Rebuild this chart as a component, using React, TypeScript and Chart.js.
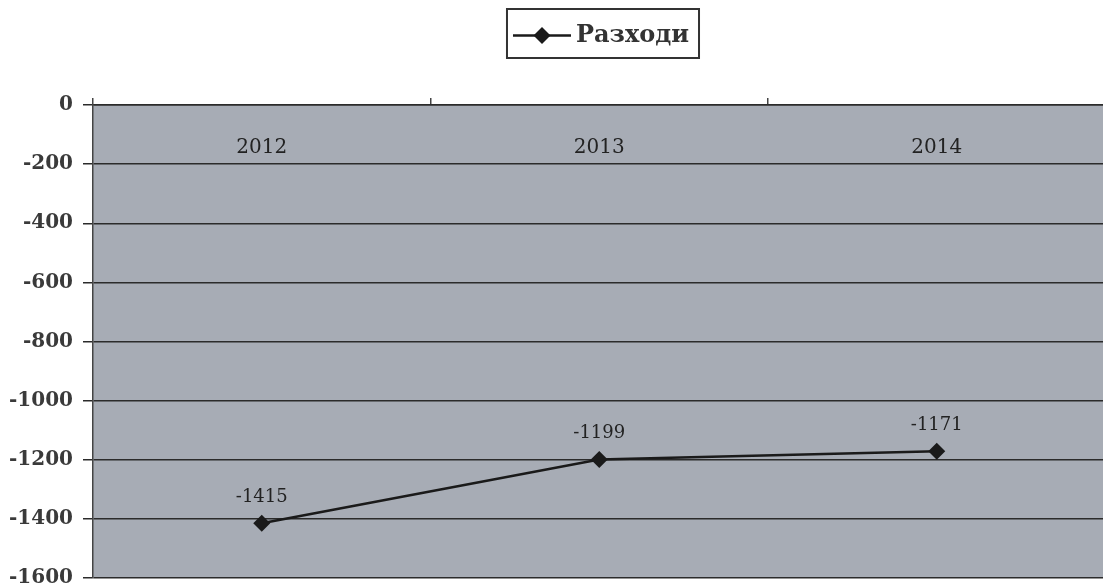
import React, { useEffect, useRef } from "react";
import { Chart, registerables } from "chart.js";

Chart.register(...registerables);

const categories = ["2012", "2013", "2014"];
const seriesLabel = "Разходи";
const expenses = [-1415, -1199, -1171];
const yMin = -1600;
const yMax = 0;
const yStep = 200;

const SERIF = "'DejaVu Serif', 'Liberation Serif', serif";
const PLOT_BG = "rgb(167,172,181)";
const INK = "#1a1a1a";

const bgPlugin = {
  id: "plotBg",
  beforeDraw(chart: any) {
    const { ctx, chartArea } = chart;
    ctx.save();
    ctx.fillStyle = PLOT_BG;
    ctx.fillRect(chartArea.left, chartArea.top, chartArea.right - chartArea.left, chartArea.bottom - chartArea.top);
    ctx.restore();
  },
};

const labelsPlugin = {
  id: "innerLabels",
  afterDatasetsDraw(chart: any) {
    const { ctx, chartArea } = chart;
    const xs = chart.scales.x;
    ctx.save();
    ctx.fillStyle = "#222";
    ctx.textAlign = "center";
    ctx.textBaseline = "middle";
    ctx.font = `20px ${SERIF}`;
    chart.data.labels.forEach((lab: string, i: number) => {
      ctx.fillText(lab, xs.getPixelForValue(i), chartArea.top + 43);
    });
    const meta = chart.getDatasetMeta(0);
    ctx.font = `18px ${SERIF}`;
    meta.data.forEach((pt: any, i: number) => {
      const v = chart.data.datasets[0].data[i];
      ctx.fillText(String(v), pt.x, pt.y - 26);
    });
    ctx.restore();
  },
};

const legendPlugin = {
  id: "boxLegend",
  afterDraw(chart: any) {
    const { ctx } = chart;
    const ds = chart.data.datasets[0];
    ctx.save();
    ctx.font = `bold 24px ${SERIF}`;
    const tw = ctx.measureText(ds.label).width;
    const lineW = 58;
    const gap = 5;
    const padL = 6;
    const padR = 10;
    const boxW = padL + lineW + gap + tw + padR;
    const cx = 603;
    const left = cx - boxW / 2;
    const top = 9;
    const h = 49;
    const cy = top + h / 2 + 2;
    ctx.strokeStyle = "#333";
    ctx.lineWidth = 2;
    ctx.strokeRect(left, top, boxW, h);
    ctx.strokeStyle = INK;
    ctx.lineWidth = 2.5;
    ctx.beginPath();
    ctx.moveTo(left + padL, cy);
    ctx.lineTo(left + padL + lineW, cy);
    ctx.stroke();
    const mx = left + padL + lineW / 2;
    ctx.fillStyle = INK;
    ctx.beginPath();
    ctx.moveTo(mx, cy - 8.5);
    ctx.lineTo(mx + 8.5, cy);
    ctx.lineTo(mx, cy + 8.5);
    ctx.lineTo(mx - 8.5, cy);
    ctx.closePath();
    ctx.fill();
    ctx.fillStyle = "#333";
    ctx.textAlign = "left";
    ctx.textBaseline = "middle";
    ctx.fillText(ds.label, left + padL + lineW + gap, cy);
    ctx.restore();
  },
};

export default function App() {
  const ref = useRef<HTMLCanvasElement | null>(null);

  useEffect(() => {
    if (!ref.current) return;
    const chart = new Chart(ref.current, {
      type: "line",
      data: {
        labels: categories,
        datasets: [
          {
            label: seriesLabel,
            data: expenses,
            borderColor: INK,
            backgroundColor: INK,
            borderWidth: 2.5,
            pointStyle: "rectRot",
            pointRadius: 8.5,
            pointBackgroundColor: INK,
            pointBorderColor: INK,
            pointBorderWidth: 0,
            tension: 0,
          },
        ],
      },
      options: {
        responsive: false,
        animation: false,
        devicePixelRatio: 1,
        layout: { padding: { top: 97, left: 0, right: 1, bottom: 10 } },
        plugins: {
          legend: { display: false },
          tooltip: { enabled: false },
          title: { display: false },
        },
        scales: {
          x: {
            type: "category",
            position: "top",
            offset: true,
            afterFit(s: any) {
              s.height = 8;
              s.paddingLeft = 0;
              s.paddingRight = 0;
            },
            ticks: { display: false },
            grid: {
              display: true,
              drawOnChartArea: false,
              drawTicks: true,
              tickLength: 7,
              offset: true,
              color: "#444",
              lineWidth: 1.5,
            },
            border: { display: true, color: "#2b2b2b", width: 1.5 },
          },
          y: {
            min: yMin,
            max: yMax,
            afterFit(s: any) {
              s.width = 93;
              s.paddingTop = 0;
              s.paddingBottom = 0;
            },
            ticks: {
              stepSize: yStep,
              padding: 10,
              color: "#3a3a3a",
              font: { family: SERIF, size: 20, weight: "bold" },
              callback: (v: any) => String(v),
            },
            grid: {
              color: "#2b2b2b",
              lineWidth: 1.5,
              tickLength: 10,
              drawTicks: true,
            },
            border: { display: true, color: "#444", width: 1.5 },
          },
        },
      },
      plugins: [bgPlugin, labelsPlugin, legendPlugin],
    });
    return () => chart.destroy();
  }, []);

  return (
    <div
      style={{
        position: "fixed",
        left: 0,
        top: 0,
        width: 1103,
        height: 588,
        overflow: "hidden",
        background: "#fff",
      }}
    >
      <canvas ref={ref} width={1114} height={588} style={{ display: "block", width: 1114, height: 588 }} />
    </div>
  );
}
